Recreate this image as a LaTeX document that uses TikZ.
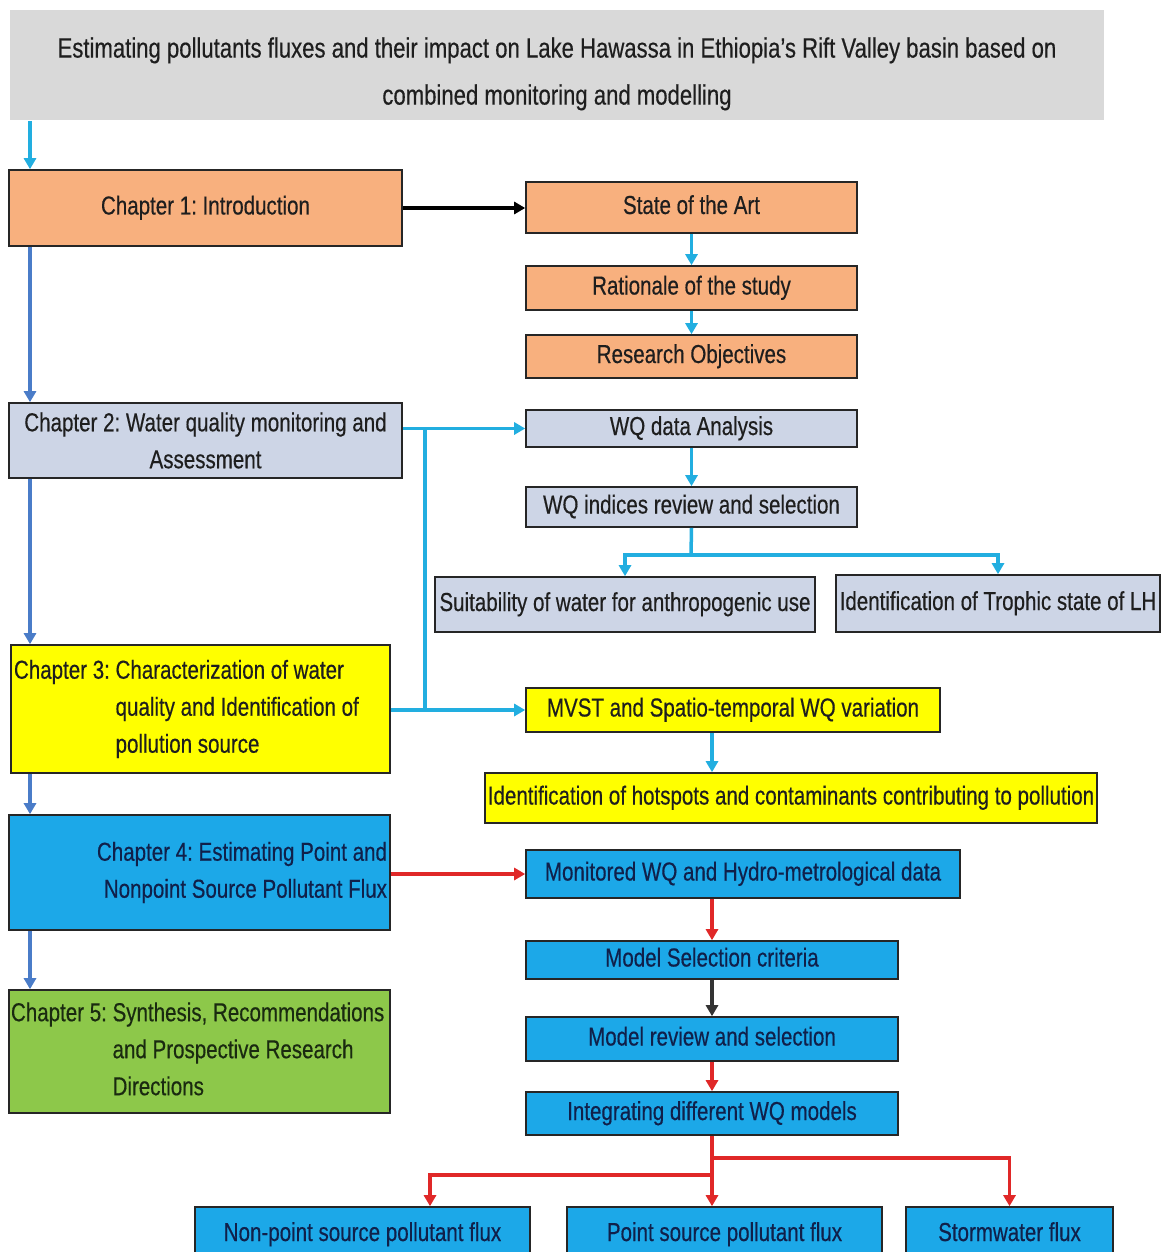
\documentclass[tikz,border=0pt]{standalone}
\usepackage{fontspec}
\setmainfont{Liberation Sans}[FakeStretch=0.79,FakeBold=0.4]
\usetikzlibrary{arrows.meta,calc}
\definecolor{cgray}{HTML}{D9D9D9}
\definecolor{corange}{HTML}{F8B07E}
\definecolor{cblueg}{HTML}{CDD5E6}
\definecolor{cyellow}{HTML}{FFFF00}
\definecolor{ccyan}{HTML}{1CA8E8}
\definecolor{cgreen}{HTML}{8DC84A}
\definecolor{lcyan}{HTML}{22AEE0}
\definecolor{lblue}{HTML}{4A7CC8}
\definecolor{lred}{HTML}{E02828}
\definecolor{tdark}{HTML}{1E1E1E}
\definecolor{tnavy}{HTML}{10204A}
\definecolor{tgreen}{HTML}{1A2A10}
\begin{document}
\frenchspacing
\begin{tikzpicture}[x=1pt,y=-1pt,
  box/.style={draw=black!85, line width=1.6pt, inner sep=0pt, align=center,
    font=\fontsize{26}{37}\selectfont\frenchspacing, text=tdark},
  sl/.style={text height=19pt, text depth=6pt},
  arr/.style={line width=3.5pt, -{Triangle[length=11pt,width=12pt]}},
  ln/.style={line width=3.5pt},
  arrc/.style={arr, draw=lcyan},
  arrb/.style={arr, draw=lblue},
  arrr/.style={arr, draw=lred},
  arrk/.style={arr, draw=black},
]
\useasboundingbox (0,0) rectangle (1162,1252);

% title
\node[box, draw=none, fill=cgray, minimum width=1094pt, minimum height=110pt,
  font=\fontsize{28}{47}\selectfont\frenchspacing] (title) at (557,65)
  {\rule{0pt}{38pt}Estimating pollutants fluxes and their impact on Lake Hawassa in Ethiopia's Rift Valley basin based on\\combined monitoring and modelling};

% left column
\node[box, sl, fill=corange, minimum width=393pt, minimum height=76pt] (ch1) at (205.5,208) {Chapter 1: Introduction};
\node[box, fill=cblueg, minimum width=393pt, minimum height=75pt] (ch2) at (205.5,440.5) {Chapter 2: Water quality monitoring and\\Assessment};
\node[box, fill=cyellow, minimum height=128pt, text width=373pt, inner xsep=3pt, align=flush left] (ch3) at (200.5,709)
  {Chapter 3: Characterization of water\\\phantom{Chapter 3: }quality and Identification of\\\phantom{Chapter 3: }pollution source};
\node[box, fill=ccyan, minimum height=115pt, text width=375pt, inner xsep=3pt, align=flush right, text=tnavy] (ch4) at (199.5,872.5)
  {Chapter 4: Estimating Point and\\Nonpoint Source Pollutant Flux};
\node[box, fill=cgreen, minimum height=123pt, text width=377pt, inner xsep=2pt, align=flush left, text=tgreen] (ch5) at (199.5,1051.5)
  {Chapter 5: Synthesis, Recommendations\\\phantom{Chapter 5: }and Prospective Research\\\phantom{Chapter 5: }Directions};

% chapter 1 branch
\node[box, sl, fill=corange, minimum width=331pt, minimum height=51pt] (sota) at (691.5,207.5) {State of the Art};
\node[box, sl, fill=corange, minimum width=331pt, minimum height=44pt] (rat) at (691.5,288) {Rationale of the study};
\node[box, sl, fill=corange, minimum width=331pt, minimum height=43pt] (obj) at (691.5,356.5) {Research Objectives};

% chapter 2 branch
\node[box, sl, fill=cblueg, minimum width=331pt, minimum height=37pt] (wqa) at (691.5,428.5) {WQ data Analysis};
\node[box, sl, fill=cblueg, minimum width=331pt, minimum height=40pt] (wqi) at (691.5,507) {WQ indices review and selection};
\node[box, sl, fill=cblueg, minimum width=380pt, minimum height=55pt] (suit) at (625,604.5) {Suitability of water for anthropogenic use};
\node[box, sl, fill=cblueg, minimum width=324pt, minimum height=57pt] (troph) at (998,603.5) {Identification of Trophic state of LH};

% chapter 3 branch
\node[box, sl, fill=cyellow, minimum width=414pt, minimum height=44pt] (mvst) at (733,710) {MVST and Spatio-temporal WQ variation};
\node[box, sl, fill=cyellow, minimum width=612pt, minimum height=50pt] (hot) at (791,798) {Identification of hotspots and contaminants contributing to pollution};

% chapter 4 branch
\node[box, sl, fill=ccyan, minimum width=434pt, minimum height=48pt, text=tnavy] (mon) at (743,874) {Monitored WQ and Hydro-metrological data};
\node[box, sl, fill=ccyan, minimum width=372pt, minimum height=38pt, text=tnavy] (msel) at (712,960) {Model Selection criteria};
\node[box, sl, fill=ccyan, minimum width=372pt, minimum height=44pt, text=tnavy] (mrev) at (712,1039) {Model review and selection};
\node[box, sl, fill=ccyan, minimum width=372pt, minimum height=43pt, text=tnavy] (integ) at (712,1113.5) {Integrating different WQ models};
\node[box, sl, fill=ccyan, minimum width=335pt, minimum height=55pt, text=tnavy] (np) at (362.5,1234.5) {Non-point source pollutant flux};
\node[box, sl, fill=ccyan, minimum width=315pt, minimum height=55pt, text=tnavy] (ps) at (724.5,1234.5) {Point source pollutant flux};
\node[box, sl, fill=ccyan, minimum width=207pt, minimum height=55pt, text=tnavy] (sw) at (1009.5,1234.5) {Stormwater flux};

% helper coordinates
\coordinate (colx) at (30,0);
\coordinate (bx) at (425,0);
\coordinate (mx) at (712,0);
\coordinate (npx) at (430,0);
\coordinate (wsplit) at (691,555);
\coordinate (isplitA) at (712,1158);
\coordinate (isplitB) at (712,1175);

% left column connectors
\draw[arrc] (title.south -| colx) -- (ch1.north -| colx);
\draw[arrb] (ch1.south -| colx) -- (ch2.north -| colx);
\draw[arrb] (ch2.south -| colx) -- (ch3.north -| colx);
\draw[arrb] (ch3.south -| colx) -- (ch4.north -| colx);
\draw[arrb] (ch4.south -| colx) -- (ch5.north -| colx);

% chapter 1
\draw[arrk] (ch1.east) -- (ch1.east -| sota.west);
\draw[arrc] (sota.south) -- (rat.north);
\draw[arrc] (rat.south) -- (obj.north);

% chapter 2 / 3
\draw[arrc] (wqa.west -| ch2.east) -- (wqa.west);
\draw[ln, draw=lcyan] (wqa.west -| bx) -- (mvst.west -| bx);
\draw[arrc] (mvst.west -| ch3.east) -- (mvst.west);
\draw[arrc] (wqa.south) -- (wqi.north);
\draw[ln, draw=lcyan] (wqi.south) -- (wsplit);
\draw[arrc] (wsplit) -| (suit.north);
\draw[arrc] (wsplit) -| (troph.north);
\draw[arrc] (mvst.south -| mx) -- (hot.north -| mx);

% chapter 4
\draw[arrr] (mon.west -| ch4.east) -- (mon.west);
\draw[arrr] (mon.south -| msel.north) -- (msel.north);
\draw[arrk, draw=black!80] (msel.south) -- (mrev.north);
\draw[arrr] (mrev.south) -- (integ.north);
\draw[ln, draw=lred] (integ.south) -- (isplitB);
\draw[arrr] (isplitA) -| (sw.north);
\draw[arrr] (isplitB) -| (np.north -| npx);
\draw[arrr] (isplitB) -- (ps.north -| isplitB);
\end{tikzpicture}
\end{document}
